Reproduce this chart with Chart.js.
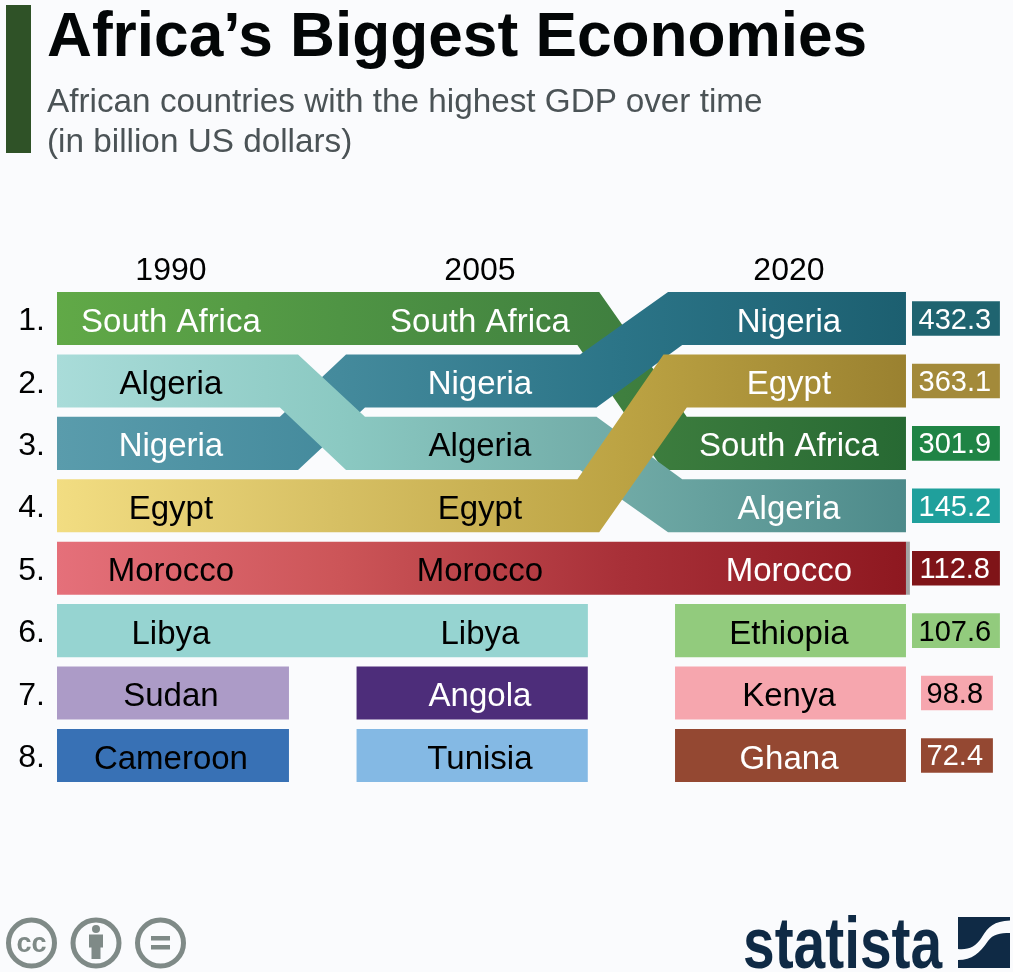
<!DOCTYPE html>
<html>
<head>
<meta charset="utf-8">
<title>Africa's Biggest Economies</title>
<script src="https://cdn.jsdelivr.net/npm/chart.js@4"></script>
<style>
  html, body { margin: 0; padding: 0; background: #fafbfd; }
  #page { position: relative; width: 1013px; height: 972px; overflow: hidden; font-family: "Liberation Sans", Arial, sans-serif; }
  #grafico { position: absolute; left: 0; top: 0; }
  #barra { position: absolute; left: 6px; top: 5px; width: 25px; height: 148px; background: #2f5227; }
  #titulo { position: absolute; left: 47px; top: 0; font-size: 62.2px; line-height: 70px; font-weight: bold; color: #030607; white-space: nowrap; }
  #subtitulo { position: absolute; left: 47px; top: 81px; font-size: 33.3px; line-height: 40px; color: #4b5356; white-space: nowrap; }
  #cc { position: absolute; left: 0; top: 912px; }
  #marca { position: absolute; left: 743px; top: 901px; font-size: 72px; line-height: 84px; font-weight: bold; color: #0f2a45; transform-origin: left top; transform: scaleX(0.79); white-space: nowrap; }
  #logo { position: absolute; left: 958px; top: 917px; }
</style>
</head>
<body>
<div id="page">
  <canvas id="grafico" width="1013" height="972" style="width:1013px;height:972px"></canvas>
  <div id="barra"></div>
  <div id="titulo">Africa’s Biggest Economies</div>
  <div id="subtitulo">African countries with the highest GDP over time<br>(in billion US dollars)</div>
  <svg id="cc" width="190" height="60" viewBox="0 0 190 60">
    <g fill="none" stroke="#7f8a87" stroke-width="5">
      <circle cx="31.5" cy="31" r="23"/>
      <circle cx="96" cy="31" r="23"/>
      <circle cx="160.5" cy="31" r="23"/>
    </g>
    <text x="31.5" y="40" text-anchor="middle" font-family="Liberation Sans" font-weight="bold" font-size="27" fill="#7f8a87">cc</text>
    <g fill="#7f8a87">
      <circle cx="96" cy="17" r="4"/>
      <rect x="89" y="22.5" width="14" height="13"/>
      <rect x="91.5" y="30" width="9" height="17"/>
      <rect x="151" y="24" width="19" height="4.5"/>
      <rect x="151" y="33" width="19" height="4.5"/>
    </g>
  </svg>
  <div id="marca">statista</div>
  <svg id="logo" width="52" height="51" viewBox="0 0 52 51">
    <path fill="#0f2a45" d="M0 0H52V3.5C36 4 30 10 24 20C18 30 10 33 0 32Z"/>
    <path fill="#0f2a45" d="M0 43C14 43 22 36 30 24C35 17 42 16 52 16V51H0Z"/>
  </svg>
</div>
<script>
const years = [1990, 2005, 2020];
const ranks = [1, 2, 3, 4, 5, 6, 7, 8];

const paises1990 = ['South Africa', 'Algeria', 'Nigeria', 'Egypt', 'Morocco', 'Libya', 'Sudan', 'Cameroon'];
const paises2005 = ['South Africa', 'Nigeria', 'Algeria', 'Egypt', 'Morocco', 'Libya', 'Angola', 'Tunisia'];
const paises2020 = ['Nigeria', 'Egypt', 'South Africa', 'Algeria', 'Morocco', 'Ethiopia', 'Kenya', 'Ghana'];
const valores2020 = [432.3, 363.1, 301.9, 145.2, 112.8, 107.6, 98.8, 72.4];

const colunas = [paises1990, paises2005, paises2020];

// cores dos rótulos e das faixas
const rotulosBrancos = [
    ['South Africa', 'Nigeria'],
    ['South Africa', 'Nigeria', 'Angola'],
    ['Nigeria', 'Egypt', 'South Africa', 'Algeria', 'Morocco', 'Ghana']
];
const coresPaises = {
    'South Africa': ['#61a947', '#4f9444', '#3f7f3f', '#276933'],
    'Algeria': ['#a9dcd9', '#8bc9c2', '#70aaa6', '#4d8a8a'],
    'Nigeria': ['#5a9cac', '#448a9c', '#2b7487', '#1c5f70'],
    'Egypt': ['#f2dd82', '#d6bf63', '#bca343', '#9a8130'],
    'Morocco': ['#e5707a', '#cc5558', '#a83038', '#8e1820'],
    'Libya': ['#96d4d1'],
    'Sudan': ['#ac9bc7'],
    'Cameroon': ['#3871b5'],
    'Angola': ['#4d2d7a'],
    'Tunisia': ['#84b9e4'],
    'Ethiopia': ['#92cb7d'],
    'Kenya': ['#f6a6ae'],
    'Ghana': ['#944832']
};
const coresValores = ['#1f6470', '#a38a3a', '#1f8445', '#1fa09c', '#7f1418', '#92cb7d', '#f6a6ae', '#944832'];
const valoresEscuros = [5, 6]; // posições com texto preto

// a primeira faixa fica por cima
const camadas = ['Egypt', 'Algeria', 'Nigeria', 'South Africa', 'Morocco', 'Libya', 'Sudan', 'Cameroon',
    'Angola', 'Tunisia', 'Ethiopia', 'Kenya', 'Ghana'];

// layout, em anos no eixo x e posições no eixo y
const inicioColuna = [1984.47, 1999.0, 2014.47];
const fimColuna = [1995.73, 2010.24, 2025.68];
const curvas = [
    { saiCedo: 1995.29, saiTarde: 1996.17, chegaCedo: 1998.5, chegaTarde: 1999.42 },
    { saiCedo: 2009.86, saiTarde: 2010.66, chegaCedo: 2014.13, chegaTarde: 2014.82 }
];
// saltos de duas posições abrem um pouco mais
const folgaSai = 0.13;
const folgaChega = 0.22;
const meiaAltura = 0.425;
const meiaAlturaValor = 0.277;
const ajusteRank = 0.045; // rótulos do eixo y um pouco abaixo do centro

function criarFaixa(topo, base, cores) {
    return [
        {
            data: topo,
            fill: '+1',
            borderWidth: 0,
            pointRadius: 0,
            tension: 0,
            backgroundColor: (c) => preenchimento(c.chart, cores)
        },
        { data: base, fill: false, borderWidth: 0, pointRadius: 0, tension: 0 }
    ];
}

function preenchimento(chart, cores) {
    if (cores.length === 1 || !chart.chartArea) return cores[0];
    const x = chart.scales.x;
    const g = chart.ctx.createLinearGradient(x.getPixelForValue(inicioColuna[0]), 0, x.getPixelForValue(fimColuna[2]), 0);
    cores.forEach((cor, i) => g.addColorStop(i / (cores.length - 1), cor));
    return g;
}

function faixaPais(pais) {
    const topo = [];
    const base = [];
    let anterior = -1;
    colunas.forEach((coluna, i) => {
        const pos = coluna.indexOf(pais);
        if (pos < 0) return;
        const rank = ranks[pos];
        if (anterior < 0) {
            topo.push({ x: inicioColuna[i], y: rank - meiaAltura });
            base.push({ x: inicioColuna[i], y: rank + meiaAltura });
        } else {
            const antes = ranks[colunas[i - 1].indexOf(pais)];
            if (antes !== rank) {
                const c = curvas[i - 1];
                const desce = rank > antes;
                const extra = Math.abs(rank - antes) - 1;
                const saiCedo = c.saiCedo - extra * folgaSai;
                const saiTarde = c.saiTarde + extra * folgaSai;
                const chegaCedo = c.chegaCedo - extra * folgaChega;
                const chegaTarde = c.chegaTarde + extra * folgaChega;
                topo.push({ x: desce ? saiTarde : saiCedo, y: antes - meiaAltura });
                topo.push({ x: desce ? chegaTarde : chegaCedo, y: rank - meiaAltura });
                base.push({ x: desce ? saiCedo : saiTarde, y: antes + meiaAltura });
                base.push({ x: desce ? chegaCedo : chegaTarde, y: rank + meiaAltura });
            }
        }
        anterior = i;
    });
    topo.push({ x: fimColuna[anterior], y: topo[topo.length - 1].y });
    base.push({ x: fimColuna[anterior], y: base[base.length - 1].y });
    return criarFaixa(topo, base, coresPaises[pais]);
}

function caixaValor(valor, i) {
    const curto = valor < 100;
    const de = curto ? 2026.41 : 2025.97;
    const ate = curto ? 2029.9 : 2030.24;
    const r = ranks[i];
    return criarFaixa(
        [{ x: de, y: r - meiaAlturaValor }, { x: ate, y: r - meiaAlturaValor }],
        [{ x: de, y: r + meiaAlturaValor }, { x: ate, y: r + meiaAlturaValor }],
        [coresValores[i]]
    );
}

// traço cinza no fim da faixa do Marrocos
const rankMarrocos = ranks[paises2020.indexOf('Morocco')];
const tracoMarrocos = criarFaixa(
    [{ x: fimColuna[2], y: rankMarrocos - meiaAltura }, { x: 2025.87, y: rankMarrocos - meiaAltura }],
    [{ x: fimColuna[2], y: rankMarrocos + meiaAltura }, { x: 2025.87, y: rankMarrocos + meiaAltura }],
    ['#a3a3a3']
);

const datasets = [
    ...camadas.flatMap(faixaPais),
    ...tracoMarrocos,
    ...valores2020.flatMap(caixaValor)
];

const rotulos = {
    id: 'rotulos',
    afterDatasetsDraw(chart) {
        const { ctx, scales } = chart;
        ctx.save();
        ctx.textAlign = 'center';
        ctx.textBaseline = 'middle';
        ctx.font = '33px "Liberation Sans"';
        colunas.forEach((coluna, i) => {
            coluna.forEach((pais, j) => {
                ctx.fillStyle = rotulosBrancos[i].includes(pais) ? '#ffffff' : '#000000';
                ctx.fillText(pais, scales.x.getPixelForValue(years[i]), scales.y.getPixelForValue(ranks[j]) + 4);
            });
        });
        ctx.font = '29px "Liberation Sans"';
        const centro = scales.x.getPixelForValue(2028.05);
        valores2020.forEach((valor, j) => {
            ctx.fillStyle = valoresEscuros.includes(j) ? '#000000' : '#ffffff';
            ctx.fillText(valor.toFixed(1), centro, scales.y.getPixelForValue(ranks[j]) + 2);
        });
        ctx.restore();
    }
};

new Chart(document.getElementById('grafico'), {
    type: 'line',
    data: { datasets },
    plugins: [rotulos],
    options: {
        responsive: false,
        animation: false,
        devicePixelRatio: 1,
        events: [],
        layout: { padding: { left: 0, top: 0, right: 3, bottom: 190 } },
        plugins: { legend: { display: false }, tooltip: { enabled: false }, title: { display: false } },
        scales: {
            x: {
                type: 'linear',
                position: 'top',
                min: 1984.47,
                max: 2030.73,
                grid: { display: false, drawTicks: false },
                border: { display: false },
                afterFit: (s) => { s.height = 292; },
                afterBuildTicks: (s) => { s.ticks = years.map((value) => ({ value })); },
                ticks: {
                    autoSkip: false,
                    maxRotation: 0,
                    padding: 2,
                    color: '#000000',
                    font: { family: '"Liberation Sans"', size: 32 },
                    callback: (v) => String(v)
                }
            },
            y: {
                type: 'linear',
                reverse: true,
                min: 0.575,
                max: 8.425,
                grid: { display: false, drawTicks: false },
                border: { display: false },
                afterFit: (s) => { s.width = 57; },
                afterBuildTicks: (s) => { s.ticks = ranks.map((value) => ({ value: value + ajusteRank })); },
                ticks: {
                    autoSkip: false,
                    padding: 12,
                    color: '#000000',
                    font: { family: '"Liberation Sans"', size: 32 },
                    callback: (v) => Math.round(v) + '.'
                }
            }
        }
    }
});
</script>
</body>
</html>
